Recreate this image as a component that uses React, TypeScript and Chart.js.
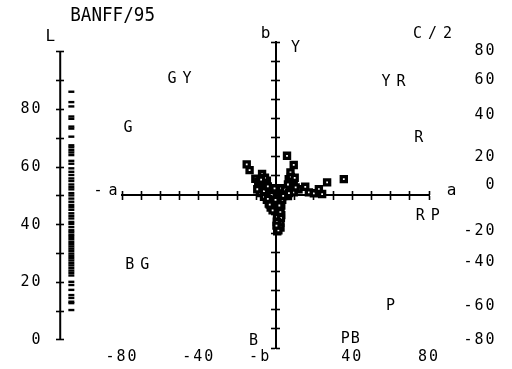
import React, { useEffect, useRef } from 'react';
import { Chart, registerables } from 'chart.js';

Chart.register(...registerables);

// ---- data: a*, b* of the samples (CIELAB) ----
const sampleA = [-15, -13.5, -10.5, -7, -4.5, -8.7, -3.5, -6.5, -8, -5.5, -3, -1, 1.6, 5.2, 3, 6, 9.5, 7.8, 9.5, 6.9, 8.7, 9.5, 12, 15.5, 17.4, 20, 22.6, 24.3, 26.9, 35.6, -4.5, -3.5, -2, 0.5, 2.5, 3.5, -2.5, -1, 0.5, 2.5, 3, 1, 1.5, 3, 1.5, 2, 1, 2, 1.2, 1.7, 0.9, 2.5, -6, 6.5, -0.5, -6, -1, 3, -2, 1, -4, 5, 7, 4, -1.5, 0, 2, -3, 2.5, 0.8, 2.8, 0.7, 2.6, 1.5, 0.5, -9, -6, -5.5, -7.5, -4, -9.5, 8, 10, 6.5, 10.5];
const sampleB = [16, 13, 8.5, 11, 7.5, 5, 2.2, 3, 1, -0.5, 0.5, 2, 0.5, 1.4, 3.5, 20.5, 15.7, 11.8, 6.6, 8.3, 4.9, 1.4, 3, 4.3, 1.4, 0.9, 3.1, 0.5, 6.6, 8.3, -2.5, -4.5, -2, -4.2, -3, -2.5, -6.5, -6, -7, -8, -5.5, -9.5, -11, -10.5, -12.5, -13.5, -15, -16, -17.5, -13.4, -19, -14.5, -1, -0.5, 3.5, 2, -1, 0.5, 0, -3, -2, 3, 1, -0.5, -8, -2.5, -5.5, -5, -9, -11.5, -12, -14, -17, -18.5, -16, 7, 6.5, 9, 8, 4.5, 3, 9.5, 9, 5.5, 4];
// ---- data: L* of the samples ----
const sampleL = [86.2, 82.6, 81.1, 77.6, 76.8, 74.1, 73.4, 70.6, 67.6, 66.9, 65.9, 65.1, 64.2, 62.2, 61.2, 59.6, 58.4, 57.3, 56.1, 55.2, 54.0, 53.1, 52.3, 51.0, 50.2, 49.1, 48.0, 46.9, 46.1, 45.2, 44.0, 43.1, 42.2, 41.0, 40.3, 39.2, 38.1, 37.4, 36.5, 35.8, 35.0, 34.1, 33.3, 32.5, 31.7, 30.9, 30.0, 29.2, 28.4, 27.6, 26.7, 25.9, 25.0, 24.1, 23.3, 22.4, 20.2, 19.1, 17.4, 15.6, 14.6, 13.3, 12.8, 10.4];

// ---- hue-name annotations (in a*, b* units) ----
const hueLabels = ['GY', 'Y', 'YR', 'G', 'R', 'RP', 'BG', 'P', 'PB', 'B'];
const hueA = [-50, 10.4, 61.5, -76.8, 74.7, 79.4, -72.1, 59.9, 39, -11.5];
const hueB = [60.4, 76.6, 58.9, 35.2, 29.7, -11.2, -36.7, -58.1, -75.5, -76.6];

// ---- tick labels ----
const bottomTickValues = [-80, -40, -8, 40, 80];
const bottomTickLabels = ['-80', '-40', '-b', '40', '80'];
const lTickValues = [0, 10, 20, 30, 40, 50, 60, 70, 80, 90, 100];
const lTickLabels = ['0', '', '20', '', '40', '', '60', '', '80', '', ''];
const rightTickValues = [75, 60, 42, 20, 5, -19, -35, -58, -76];
const rightTickLabels = ['80', '60', '40', '20', '0', '-20', '-40', '-60', '-80'];

// ---- layout constants ----
const AB_MIN = -80;
const AB_MAX = 80;
const L_MIN = -2.78;
const L_MAX = 103.47;
const L_AXIS_A = -112.2;
const L_STRIP_A = -106.4;
const L_LABEL_A = -121.4;
const R_LABEL_A = 115.2;
const FONT = '"DejaVu Sans Mono", monospace';

const axisTexts = [
  { t: 'b', a: -5.2, b: 84.2, size: 16, sp: 0 },
  { t: '-a', a: -88.6, b: 2.1, size: 15, sp: 6 },
  { t: 'a', a: 91.7, b: 2.1, size: 16, sp: 0 },
  { t: 'C/2', a: 81.8, b: 84.2, size: 15, sp: 6 },
  { t: 'L', a: -117.3, b: 82.6, size: 16, sp: 0 },
];

const tickScale = (axis: 'x' | 'y', position: any, min: number, max: number, len: number, border: boolean, ticksFrom?: number[]) => ({
  type: 'linear',
  axis,
  position,
  min,
  max,
  ticks: { display: false, stepSize: 10, autoSkip: false },
  grid: { display: true, drawOnChartArea: false, drawTicks: true, tickLength: len, tickWidth: 1.6, tickColor: '#000' },
  border: { display: border, color: '#000', width: 2 },
  afterBuildTicks: ticksFrom ? (s: any) => { s.ticks = ticksFrom.map((v) => ({ value: v })); } : undefined,
});

const labelScale = (position: any, min: number, max: number, values: number[], labels: string[]) => ({
  type: 'linear',
  axis: 'y',
  position,
  min,
  max,
  grid: { display: false, drawTicks: false },
  border: { display: false },
  ticks: {
    display: true,
    autoSkip: false,
    padding: 0,
    color: '#000',
    font: { family: FONT, size: 15 },
    callback: (_v: any, i: number) => labels[i],
  },
  afterBuildTicks: (s: any) => { s.ticks = values.map((v) => ({ value: v })); },
});

const labPlugin = {
  id: 'labDecor',
  beforeDraw(chart: any) {
    chart.ctx.letterSpacing = '2px';
  },
  beforeDatasetsDraw(chart: any) {
    const ctx = chart.ctx;
    const sx = chart.scales.x;
    const yL = chart.scales.yL;
    const lx = sx.getPixelForValue(L_AXIS_A);
    ctx.save();
    ctx.strokeStyle = '#000';
    ctx.lineWidth = 2;
    ctx.beginPath();
    ctx.moveTo(lx, yL.getPixelForValue(0));
    ctx.lineTo(lx, yL.getPixelForValue(100));
    ctx.stroke();
    ctx.restore();
  },
  beforeDatasetDraw(chart: any, args: any) {
    // the L* strip lies left of the a*b* plotting area: draw its point elements without the area test
    if (args.index !== 1) return;
    const area = { left: 0, top: 0, right: chart.width, bottom: chart.height };
    args.meta.data.forEach((el: any) => el.draw(chart.ctx, area));
    return false;
  },
  afterDraw(chart: any) {
    const ctx = chart.ctx;
    const sx = chart.scales.x;
    const sy = chart.scales.y;
    ctx.save();
    ctx.fillStyle = '#000';
    ctx.textAlign = 'center';
    ctx.textBaseline = 'middle';
    const put = (t: string, a: number, b: number, size: number, sp: number) => {
      ctx.font = `${size}px ${FONT}`;
      ctx.letterSpacing = `${sp}px`;
      ctx.fillText(t, sx.getPixelForValue(a) + sp / 2, sy.getPixelForValue(b));
    };
    hueLabels.forEach((t, i) => put(t, hueA[i], hueB[i], 15, t === 'PB' ? 1 : 6));
    axisTexts.forEach((o) => put(o.t, o.a, o.b, o.size, o.sp));
    // plot title
    ctx.letterSpacing = '0px';
    ctx.font = `20px ${FONT}`;
    const tx = sx.getPixelForValue(-84.9);
    const ty = sy.getPixelForValue(93.6);
    ctx.translate(tx, ty);
    ctx.scale(0.88, 1);
    ctx.fillText('BANFF/95', 0, 0);
    ctx.restore();
    ctx.letterSpacing = '0px';
  },
};

export default function App() {
  const ref = useRef<HTMLCanvasElement | null>(null);
  useEffect(() => {
    document.body.style.margin = '0';
    if (!ref.current) return;
    const abPoints = sampleA.map((a, i) => ({ x: a, y: sampleB[i] }));
    const lPoints = sampleL.map((l) => ({ x: L_STRIP_A, y: l }));
    const chart = new Chart(ref.current, {
      type: 'scatter',
      data: {
        datasets: [
          {
            label: 'a*b*',
            data: abPoints,
            xAxisID: 'x',
            yAxisID: 'y',
            pointStyle: 'rect',
            pointRadius: 3.6,
            borderWidth: 3.3,
            borderColor: '#000',
            backgroundColor: '#fff',
          },
          {
            label: 'L*',
            data: lPoints,
            xAxisID: 'x',
            yAxisID: 'yL',
            pointStyle: 'line',
            pointRadius: 3,
            borderWidth: 2.4,
            borderColor: '#000',
            backgroundColor: '#000',
            clip: false,
          },
        ],
      } as any,
      options: {
        responsive: false,
        animation: false,
        events: [],
        layout: { padding: { left: 122, right: 83, top: 42, bottom: 3 } },
        plugins: {
          legend: { display: false },
          tooltip: { enabled: false },
          title: { display: false },
        },
        scales: {
          x: {
            type: 'linear',
            axis: 'x',
            position: 'bottom',
            min: AB_MIN,
            max: AB_MAX,
            grid: { display: false, drawTicks: false },
            border: { display: false },
            ticks: {
              autoSkip: false,
              padding: 0,
              maxRotation: 0,
              color: '#000',
              font: { family: FONT, size: 15 },
              callback: (_v: any, i: number) => bottomTickLabels[i],
            },
            afterBuildTicks: (s: any) => { s.ticks = bottomTickValues.map((v) => ({ value: v })); },
          },
          y: { type: 'linear', axis: 'y', display: false, min: AB_MIN, max: AB_MAX },
          xc: tickScale('x', { y: 0 }, AB_MIN, AB_MAX, 4, true),
          xc2: tickScale('x', { y: 0 }, AB_MIN, AB_MAX, -4, false),
          yc: tickScale('y', { x: 0 }, AB_MIN, AB_MAX, 4, true),
          yc2: tickScale('y', { x: 0 }, AB_MIN, AB_MAX, -4, false),
          yL: tickScale('y', { x: L_AXIS_A }, L_MIN, L_MAX, 4, false, lTickValues),
          yL2: tickScale('y', { x: L_AXIS_A }, L_MIN, L_MAX, -4, false, lTickValues),
          yLlab: labelScale({ x: L_LABEL_A }, L_MIN, L_MAX, lTickValues, lTickLabels),
          yR: labelScale({ x: R_LABEL_A }, AB_MIN, AB_MAX, rightTickValues, rightTickLabels),
        } as any,
      },
      plugins: [labPlugin],
    });
    return () => chart.destroy();
  }, []);
  return (
    <div style={{ width: 512, height: 369, background: '#fff' }}>
      <canvas ref={ref} width={512} height={369} style={{ display: 'block' }} />
    </div>
  );
}
